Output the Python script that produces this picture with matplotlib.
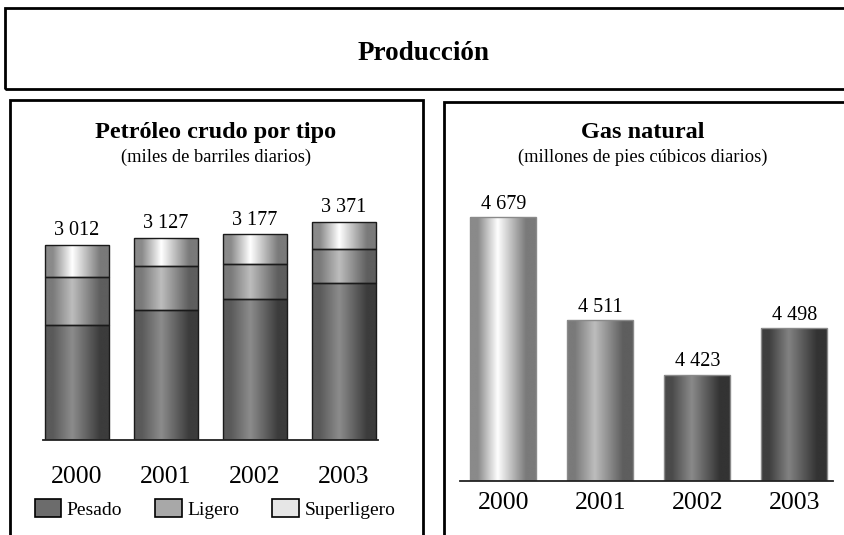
import numpy as np
import matplotlib
matplotlib.use("Agg")
import matplotlib.pyplot as plt
from matplotlib.patches import Rectangle, Patch
from matplotlib.colors import LinearSegmentedColormap

# ---------------- data ----------------
years = ["2000", "2001", "2002", "2003"]
pesado = [1774, 2003, 2174, 2425]
ligero = [738, 680, 546, 526]
superligero = [500, 444, 457, 420]
crudo_total = [3012, 3127, 3177, 3371]
gas = [4679, 4511, 4423, 4498]
crudo_labels = ["3 012", "3 127", "3 177", "3 371"]
gas_labels = ["4 679", "4 511", "4 423", "4 498"]
gas_axis_min = 4250  # truncated value axis of the gas panel

plt.rcParams['font.family'] = ['Liberation Serif', 'DejaVu Serif']

W, H = 844, 535
fig = plt.figure(figsize=(W / 100, H / 100), dpi=100)


def fx(px):
    return px / W


def fy(py):
    return 1 - py / H


def cyl(left, peak, right, name):
    return LinearSegmentedColormap.from_list(
        name, [(0, left), (0.12, left), (0.42, peak), (0.85, right), (1, right)])


cm_pesado = cyl('#5a5a5a', '#8c8c8c', '#3c3c3c', 'pes')
cm_ligero = cyl('#7a7a7a', '#bdbdbd', '#5e5e5e', 'lig')
cm_super = cyl('#8a8a8a', '#ffffff', '#7a7a7a', 'sup')
cm_g2002 = cyl('#4a4a4a', '#8a8a8a', '#333333', 'g2')
cm_g2003 = cyl('#3e3e3e', '#828282', '#333333', 'g3')

grad = np.linspace(0, 1, 256).reshape(1, -1)


def paint(ax, bars, cmaps):
    for b, cm in zip(bars, cmaps):
        x0, y0 = b.get_x(), b.get_y()
        w, h = b.get_width(), b.get_height()
        im = ax.imshow(grad, cmap=cm, extent=(x0, x0 + w, y0, y0 + h),
                       aspect='auto', zorder=1.5, interpolation='bilinear')
        im.set_clip_path(b)


# ---------------- frames ----------------
lw_box = 2.0
fig.add_artist(Rectangle((fx(5), fy(89)), fx(900), 81 / H, transform=fig.transFigure,
                         fill=False, lw=lw_box, ec='black', clip_on=False))
fig.add_artist(Rectangle((fx(10), fy(620)), (423 - 10) / W, (620 - 100) / H,
                         transform=fig.transFigure, fill=False, lw=lw_box, ec='black', clip_on=False))
fig.add_artist(Rectangle((fx(444), fy(620)), (900 - 444) / W, (620 - 102) / H,
                         transform=fig.transFigure, fill=False, lw=lw_box, ec='black', clip_on=False))

fig.text(fx(424), fy(59.5), "Producción", ha='center', va='baseline',
         fontsize=19.5, fontweight='bold')
fig.text(fx(216), fy(138), "Petróleo crudo por tipo", ha='center', va='baseline',
         fontsize=17.5, fontweight='bold')
fig.text(fx(216), fy(162), "(miles de barriles diarios)", ha='center', va='baseline',
         fontsize=13.3)
fig.text(fx(643), fy(138), "Gas natural", ha='center', va='baseline',
         fontsize=17.5, fontweight='bold')
fig.text(fx(643), fy(162), "(millones de pies cúbicos diarios)", ha='center', va='baseline',
         fontsize=13.3)

# ---------------- left: crude oil ----------------
axL = fig.add_axes([fx(43), fy(440), (378 - 43) / W, 240 / H])
x = np.arange(len(years))
bw = 0.72
b1 = axL.bar(x, pesado, bw, facecolor='none', edgecolor='#1a1a1a', lw=1.0, zorder=2)
b2 = axL.bar(x, ligero, bw, bottom=pesado, facecolor='none', edgecolor='#1a1a1a', lw=1.0, zorder=2)
bot3 = [p + l for p, l in zip(pesado, ligero)]
b3 = axL.bar(x, superligero, bw, bottom=bot3, facecolor='none', edgecolor='#1a1a1a', lw=1.0, zorder=2)
paint(axL, b1, [cm_pesado] * 4)
paint(axL, b2, [cm_ligero] * 4)
paint(axL, b3, [cm_super] * 4)
for xi, tot, lab in zip(x, crudo_total, crudo_labels):
    top = max(tot, bot3[xi] + superligero[xi])
    axL.annotate(lab, (xi, top), xytext=(0, 7), textcoords='offset points',
                 ha='center', va='baseline', fontsize=14.5)
axL.set_xlim(-0.382, 3.382)
axL.set_ylim(0, 3710)
axL.set_xticks(x)
axL.set_xticklabels(years, fontsize=18.5)
axL.tick_params(axis='x', length=0, pad=19)
axL.set_yticks([])
for s in ['top', 'left', 'right']:
    axL.spines[s].set_visible(False)
axL.spines['bottom'].set_linewidth(1.3)
axL.spines['bottom'].set_color('#222222')
axL.patch.set_alpha(0)

handles = [Patch(facecolor='#6c6c6c', edgecolor='black', lw=1.2),
           Patch(facecolor='#a8a8a8', edgecolor='black', lw=1.2),
           Patch(facecolor='#e6e6e6', edgecolor='black', lw=1.2)]
fig.legend(handles, ["Pesado", "Ligero", "Superligero"], loc='center',
           bbox_to_anchor=(fx(215), fy(509)), ncol=3, frameon=False,
           fontsize=14, handlelength=1.35, handleheight=1.0, handletextpad=0.3,
           columnspacing=1.7, borderpad=0)

# ---------------- right: natural gas ----------------
axR = fig.add_axes([fx(460), fy(481), (833 - 460) / W, 291 / H])
gas_h = [v - gas_axis_min for v in gas]
bars = axR.bar(x, gas_h, 0.68, bottom=gas_axis_min, facecolor='none',
               edgecolor='#8a8a8a', lw=1.0, zorder=2)
paint(axR, bars, [cm_super, cm_ligero, cm_g2002, cm_g2003])
for xi, v, lab in zip(x, gas, gas_labels):
    axR.annotate(lab, (xi, v), xytext=(0, 6), textcoords='offset points',
                 ha='center', va='baseline', fontsize=14.5)
axR.set_xlim(-0.446, 3.399)
axR.set_ylim(gas_axis_min, 4723)
axR.set_xticks(x)
axR.set_xticklabels(years, fontsize=18.5)
axR.tick_params(axis='x', length=0, pad=8)
axR.set_yticks([])
for s in ['top', 'left', 'right']:
    axR.spines[s].set_visible(False)
axR.spines['bottom'].set_linewidth(1.3)
axR.spines['bottom'].set_color('#222222')
axR.patch.set_alpha(0)

fig.savefig("out.png", dpi=100)
